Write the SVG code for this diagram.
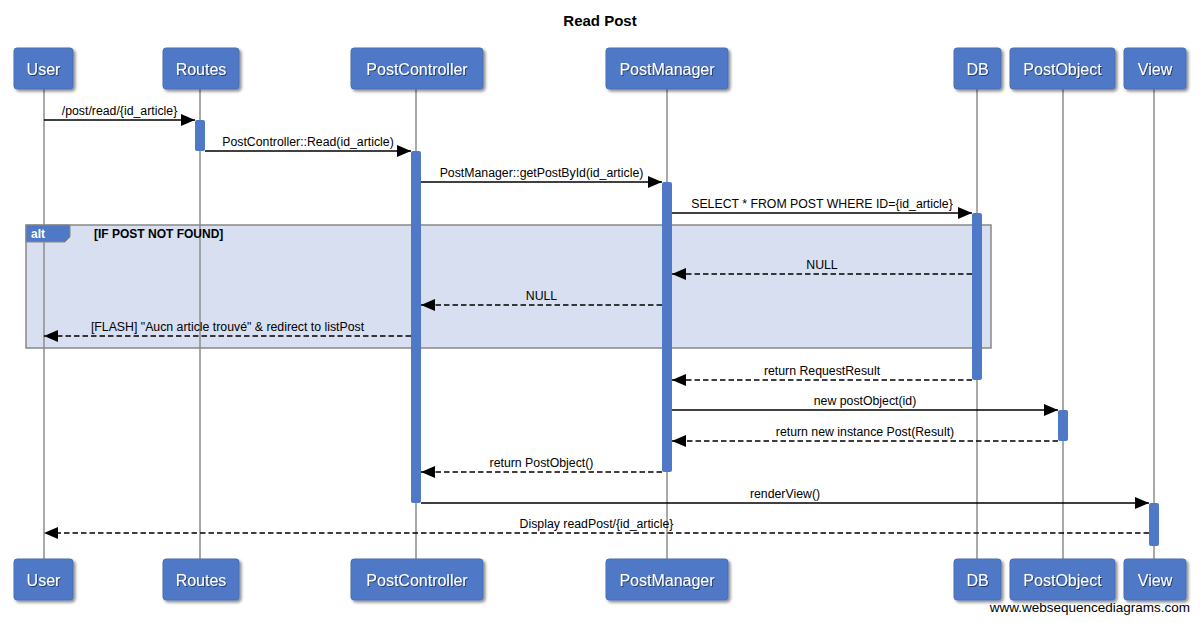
<svg xmlns="http://www.w3.org/2000/svg" width="1200" height="623" viewBox="0 0 1200 623">
<style>
text{font-family:"Liberation Sans",Arial,sans-serif}
.title{font-size:15px;font-weight:bold;fill:#000;text-anchor:middle}
.pbox{fill:#4f78c6;stroke:#4a6fb5;stroke-width:1}
.ptxt{font-size:16px;fill:#fff;text-anchor:middle}
.life{stroke:#8c8c8c;stroke-width:1.5}
.act{fill:#4f78c6}
.msg{stroke:#000;stroke-width:1.6;fill:none}
.dash{stroke-dasharray:5.5,3}
.lbl{font-size:12.3px;fill:#000;text-anchor:middle}
.alt{fill:#d7dff1;stroke:#888;stroke-width:1.5}
.altlbl{font-size:12px;font-weight:bold}
</style>
<defs>
<filter id="sh" x="-20%" y="-20%" width="150%" height="150%">
<feDropShadow dx="2" dy="2" stdDeviation="1.5" flood-color="#000" flood-opacity="0.45"/>
</filter>
<filter id="tsh" x="-10%" y="-30%" width="120%" height="160%">
<feDropShadow dx="1" dy="1" stdDeviation="0.6" flood-color="#000" flood-opacity="0.5"/>
</filter>
<marker id="ah" markerUnits="userSpaceOnUse" markerWidth="15" markerHeight="12" refX="14" refY="6" orient="auto">
<path d="M0,0 L14,6 L0,12 z" fill="#000"/>
</marker>
</defs>
<rect width="1200" height="623" fill="#fff"/>
<text class="title" x="600" y="26">Read Post</text>

<g id="alt-frame-body">
<rect class="alt" x="26" y="225" width="965" height="123"/>
</g>

<g id="lifelines">
<line class="life" x1="44" y1="89" x2="44" y2="559"/>
<line class="life" x1="200" y1="89" x2="200" y2="559"/>
<line class="life" x1="416" y1="89" x2="416" y2="559"/>
<line class="life" x1="667" y1="89" x2="667" y2="559"/>
<line class="life" x1="977" y1="89" x2="977" y2="559"/>
<line class="life" x1="1063" y1="89" x2="1063" y2="559"/>
<line class="life" x1="1154" y1="89" x2="1154" y2="559"/>
</g>

<g id="alt-frame-label">
<path d="M26,225 H70 V237 L65,242 H26 Z" fill="#4f78c6" stroke="#888" stroke-width="1"/>
<text class="altlbl" x="31" y="238" fill="#fff">alt</text>
<text class="altlbl" x="94" y="238" fill="#000">[IF POST NOT FOUND]</text>
</g>

<g id="User">
<rect class="pbox" x="14" y="48" width="59" height="41" rx="3" filter="url(#sh)"/>
<text class="ptxt" x="43.5" y="75" filter="url(#tsh)">User</text>
<rect class="pbox" x="14" y="559" width="59" height="41" rx="3" filter="url(#sh)"/>
<text class="ptxt" x="43.5" y="586" filter="url(#tsh)">User</text>
</g>
<g id="Routes">
<rect class="pbox" x="163" y="48" width="76" height="41" rx="3" filter="url(#sh)"/>
<text class="ptxt" x="201" y="75" filter="url(#tsh)">Routes</text>
<rect class="pbox" x="163" y="559" width="76" height="41" rx="3" filter="url(#sh)"/>
<text class="ptxt" x="201" y="586" filter="url(#tsh)">Routes</text>
<rect class="act" x="195" y="120" width="10" height="31" rx="2"/>
</g>
<g id="PostController">
<rect class="pbox" x="351" y="48" width="132" height="41" rx="3" filter="url(#sh)"/>
<text class="ptxt" x="417" y="75" filter="url(#tsh)">PostController</text>
<rect class="pbox" x="351" y="559" width="132" height="41" rx="3" filter="url(#sh)"/>
<text class="ptxt" x="417" y="586" filter="url(#tsh)">PostController</text>
<rect class="act" x="411" y="151" width="10" height="352" rx="2"/>
</g>
<g id="PostManager">
<rect class="pbox" x="606" y="48" width="122" height="41" rx="3" filter="url(#sh)"/>
<text class="ptxt" x="667" y="75" filter="url(#tsh)">PostManager</text>
<rect class="pbox" x="606" y="559" width="122" height="41" rx="3" filter="url(#sh)"/>
<text class="ptxt" x="667" y="586" filter="url(#tsh)">PostManager</text>
<rect class="act" x="662" y="182" width="10" height="290" rx="2"/>
</g>
<g id="DB">
<rect class="pbox" x="954" y="48" width="47" height="41" rx="3" filter="url(#sh)"/>
<text class="ptxt" x="977.5" y="75" filter="url(#tsh)">DB</text>
<rect class="pbox" x="954" y="559" width="47" height="41" rx="3" filter="url(#sh)"/>
<text class="ptxt" x="977.5" y="586" filter="url(#tsh)">DB</text>
<rect class="act" x="972" y="213" width="10" height="167" rx="2"/>
</g>
<g id="PostObject">
<rect class="pbox" x="1010" y="48" width="105" height="41" rx="3" filter="url(#sh)"/>
<text class="ptxt" x="1062.5" y="75" filter="url(#tsh)">PostObject</text>
<rect class="pbox" x="1010" y="559" width="105" height="41" rx="3" filter="url(#sh)"/>
<text class="ptxt" x="1062.5" y="586" filter="url(#tsh)">PostObject</text>
<rect class="act" x="1058" y="410" width="10" height="31" rx="2"/>
</g>
<g id="View">
<rect class="pbox" x="1124" y="48" width="62" height="41" rx="3" filter="url(#sh)"/>
<text class="ptxt" x="1155" y="75" filter="url(#tsh)">View</text>
<rect class="pbox" x="1124" y="559" width="62" height="41" rx="3" filter="url(#sh)"/>
<text class="ptxt" x="1155" y="586" filter="url(#tsh)">View</text>
<rect class="act" x="1149" y="503" width="10" height="43" rx="2"/>
</g>

<g id="connectors">
<line class="msg" x1="44" y1="120" x2="195" y2="120" marker-end="url(#ah)"/>
<text class="lbl" x="119.5" y="115">/post/read/{id_article}</text>
<line class="msg" x1="205" y1="151" x2="411" y2="151" marker-end="url(#ah)"/>
<text class="lbl" x="308" y="146">PostController::Read(id_article)</text>
<line class="msg" x1="421" y1="182" x2="662" y2="182" marker-end="url(#ah)"/>
<text class="lbl" x="541.5" y="177">PostManager::getPostById(id_article)</text>
<line class="msg" x1="672" y1="213" x2="972" y2="213" marker-end="url(#ah)"/>
<text class="lbl" x="822" y="208">SELECT * FROM POST WHERE ID={id_article}</text>
<line class="msg dash" x1="972" y1="274" x2="672" y2="274" marker-end="url(#ah)"/>
<text class="lbl" x="822" y="269">NULL</text>
<line class="msg dash" x1="662" y1="305" x2="421" y2="305" marker-end="url(#ah)"/>
<text class="lbl" x="541.5" y="300">NULL</text>
<line class="msg dash" x1="411" y1="336" x2="44" y2="336" marker-end="url(#ah)"/>
<text class="lbl" x="227.5" y="331">[FLASH] "Aucn article trouvé" &amp; redirect to listPost</text>
<line class="msg dash" x1="972" y1="380" x2="672" y2="380" marker-end="url(#ah)"/>
<text class="lbl" x="822" y="375">return RequestResult</text>
<line class="msg" x1="672" y1="410" x2="1058" y2="410" marker-end="url(#ah)"/>
<text class="lbl" x="865" y="405">new postObject(id)</text>
<line class="msg dash" x1="1058" y1="441" x2="672" y2="441" marker-end="url(#ah)"/>
<text class="lbl" x="865" y="436">return new instance Post(Result)</text>
<line class="msg dash" x1="662" y1="472" x2="421" y2="472" marker-end="url(#ah)"/>
<text class="lbl" x="541.5" y="467">return PostObject()</text>
<line class="msg" x1="421" y1="503" x2="1149" y2="503" marker-end="url(#ah)"/>
<text class="lbl" x="785" y="498">renderView()</text>
<line class="msg dash" x1="1149" y1="533" x2="44" y2="533" marker-end="url(#ah)"/>
<text class="lbl" x="596.5" y="528">Display readPost/{id_article}</text>
</g>

<text x="1190" y="612" font-size="13.5" text-anchor="end" fill="#000">www.websequencediagrams.com</text>
</svg>
